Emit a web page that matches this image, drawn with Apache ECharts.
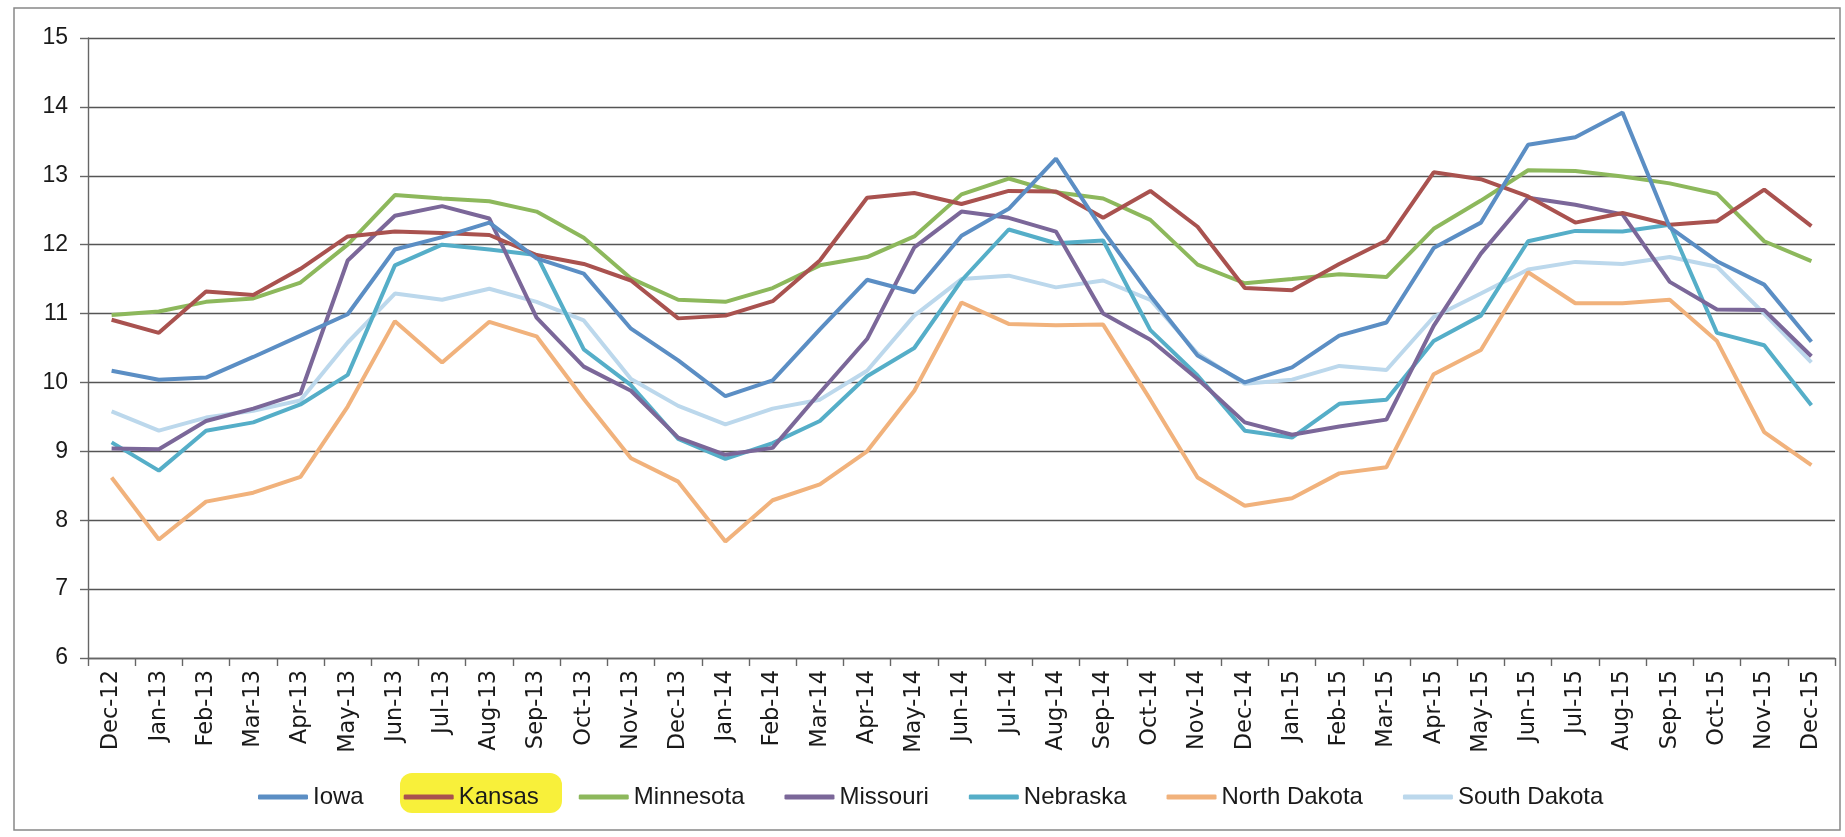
<!DOCTYPE html>
<html>
<head>
<meta charset="utf-8">
<script src="https://cdn.jsdelivr.net/npm/echarts@6/dist/echarts.min.js"></script>
<style>
  html,body{margin:0;padding:0;background:#fff;}
  #chart{width:1845px;height:837px;}
</style>
</head>
<body>
<div id="chart"></div>
<script>
// months Dec-12 .. Dec-15
const months = ['Dec-12','Jan-13','Feb-13','Mar-13','Apr-13','May-13','Jun-13','Jul-13','Aug-13','Sep-13','Oct-13','Nov-13',
  'Dec-13','Jan-14','Feb-14','Mar-14','Apr-14','May-14','Jun-14','Jul-14','Aug-14','Sep-14','Oct-14','Nov-14',
  'Dec-14','Jan-15','Feb-15','Mar-15','Apr-15','May-15','Jun-15','Jul-15','Aug-15','Sep-15','Oct-15','Nov-15','Dec-15'];

const iowa = [10.17,10.04,10.07,10.37,10.68,10.99,11.93,12.11,12.32,11.80,11.58,10.78,
  10.32,9.80,10.03,10.77,11.49,11.31,12.13,12.52,13.25,12.20,11.26,10.39,
  10.00,10.22,10.68,10.87,11.95,12.32,13.45,13.56,13.92,12.25,11.76,11.42,10.59];
const kansas = [10.91,10.72,11.32,11.27,11.65,12.12,12.19,12.17,12.14,11.85,11.72,11.48,
  10.93,10.97,11.18,11.77,12.68,12.75,12.59,12.78,12.77,12.39,12.78,12.26,
  11.37,11.34,11.72,12.06,13.05,12.95,12.70,12.32,12.46,12.29,12.34,12.80,12.27];
const minnesota = [10.98,11.03,11.17,11.22,11.45,12.00,12.72,12.67,12.63,12.48,12.10,11.51,
  11.20,11.17,11.37,11.70,11.82,12.12,12.73,12.96,12.76,12.67,12.36,11.71,
  11.44,11.50,11.57,11.53,12.23,12.64,13.08,13.07,12.99,12.89,12.74,12.05,11.76];
const missouri = [9.04,9.03,9.44,9.62,9.84,11.77,12.42,12.56,12.38,10.94,10.23,9.88,
  9.20,8.95,9.05,9.85,10.63,11.96,12.48,12.39,12.19,11.00,10.62,10.05,
  9.42,9.24,9.36,9.46,10.82,11.87,12.68,12.58,12.44,11.46,11.06,11.05,10.38];
const nebraska = [9.13,8.72,9.30,9.42,9.68,10.11,11.70,12.00,11.93,11.85,10.48,9.96,
  9.18,8.89,9.12,9.44,10.09,10.50,11.48,12.22,12.02,12.06,10.76,10.10,
  9.30,9.20,9.69,9.75,10.60,10.97,12.05,12.20,12.19,12.29,10.72,10.54,9.67];
const northDakota = [8.62,7.72,8.27,8.40,8.63,9.65,10.89,10.29,10.88,10.67,9.76,8.90,
  8.56,7.69,8.29,8.52,9.00,9.88,11.16,10.85,10.83,10.84,9.75,8.62,
  8.21,8.32,8.68,8.77,10.12,10.47,11.60,11.15,11.15,11.20,10.60,9.28,8.80];
const southDakota = [9.58,9.30,9.49,9.59,9.74,10.58,11.29,11.20,11.36,11.17,10.90,10.05,
  9.66,9.39,9.62,9.75,10.17,10.97,11.50,11.55,11.38,11.48,11.20,10.42,
  9.98,10.04,10.24,10.18,10.95,11.29,11.64,11.75,11.72,11.82,11.68,11.00,10.29];

const seriesNames = ['Iowa','Kansas','Minnesota','Missouri','Nebraska','North Dakota','South Dakota'];
const seriesValues = [iowa,kansas,minnesota,missouri,nebraska,northDakota,southDakota];
const colors = ['#5b8ec4','#a9524f','#8db85c','#7b6799','#55aec8','#f1b27c','#bcd8ec'];

const chart = echarts.init(document.getElementById('chart'));

const series = seriesNames.map((name,i)=>({
  name:name,
  type:'line',
  data:seriesValues[i],
  symbol:'none',
  smooth:false,
  lineStyle:{width:4,color:colors[i]},
  itemStyle:{color:colors[i]},
  z:10-i
}));

const option = {
  animation:false,
  backgroundColor:'#fff',
  color:colors,
  grid:{left:88,right:10,top:38,bottom:179},
  xAxis:{
    type:'category',
    data:months,
    boundaryGap:true,
    axisLine:{lineStyle:{color:'#666',width:1.4}},
    axisTick:{show:true,length:8,alignWithLabel:false,lineStyle:{color:'#666',width:1.4}},
    axisLabel:{rotate:90,interval:0,margin:12,color:'#1a1a1a',fontSize:22.5,fontFamily:'DejaVu Sans'}
  },
  yAxis:{
    type:'value',
    min:6,max:15,interval:1,
    axisLine:{show:true,lineStyle:{color:'#666',width:1.4}},
    axisTick:{show:true,length:8,lineStyle:{color:'#666',width:1.4}},
    splitLine:{lineStyle:{color:'#555',width:1.4}},
    axisLabel:{margin:20,color:'#1a1a1a',fontSize:23,fontFamily:'Liberation Sans'}
  },
  legend:{
    data:seriesNames,
    left:258,
    top:785,
    padding:0,
    icon:'roundRect',
    itemWidth:50,
    itemHeight:5,
    itemGap:40,
    textStyle:{fontSize:24,color:'#1a1a1a',fontFamily:'Liberation Sans',padding:[0,0,0,0]}
  },
  graphic:[
    {type:'rect',shape:{x:14,y:8,width:1826,height:822},style:{fill:'none',stroke:'#888',lineWidth:1.5},silent:true,z:-1},
    {type:'rect',shape:{x:400,y:773,width:162,height:40,r:12},style:{fill:'#f8f03a'},silent:true,z:0}
  ],
  series:series
};

chart.setOption(option);
</script>
</body>
</html>
